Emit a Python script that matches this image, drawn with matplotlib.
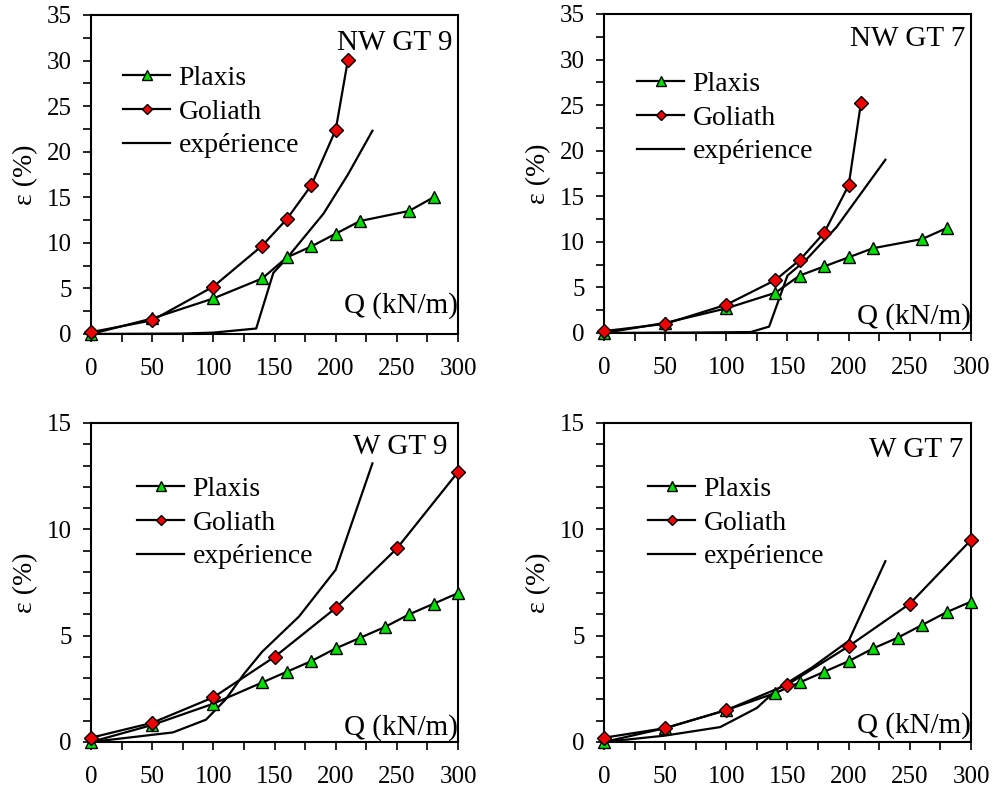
import matplotlib
matplotlib.use("Agg")
import matplotlib.pyplot as plt
from matplotlib.ticker import MultipleLocator

# --- data (Q in kN/m, strain in %) ---
# NW GT 9
nw9_plaxis_q = [0, 50, 100, 140, 160, 180, 200, 220, 260, 280]
nw9_plaxis_e = [0, 1.7, 3.9, 6.1, 8.4, 9.6, 11.0, 12.4, 13.5, 15.0]
nw9_goliath_q = [0, 50, 100, 140, 160, 180, 200, 210]
nw9_goliath_e = [0.2, 1.5, 5.2, 9.7, 12.6, 16.3, 22.4, 30.1]
nw9_exp_q = [0, 75, 100, 135, 149, 160, 190, 210, 230]
nw9_exp_e = [0, 0.05, 0.15, 0.6, 6.7, 8.3, 13.2, 17.5, 22.3]

# NW GT 7
nw7_plaxis_q = [0, 50, 100, 140, 160, 180, 200, 220, 260, 280]
nw7_plaxis_e = [0, 1.1, 2.7, 4.4, 6.3, 7.3, 8.3, 9.3, 10.3, 11.5]
nw7_goliath_q = [0, 50, 100, 140, 160, 180, 200, 210]
nw7_goliath_e = [0.2, 1.0, 3.1, 5.8, 8.0, 11.0, 16.2, 25.2]
nw7_exp_q = [0, 80, 120, 135, 150, 165, 190, 230]
nw7_exp_e = [0, 0.05, 0.1, 0.7, 6.3, 8.0, 11.6, 19.0]

# W GT 9
w9_plaxis_q = [0, 50, 100, 140, 160, 180, 200, 220, 240, 260, 280, 300]
w9_plaxis_e = [0, 0.8, 1.8, 2.8, 3.3, 3.8, 4.4, 4.9, 5.4, 6.0, 6.5, 7.0]
w9_goliath_q = [0, 50, 100, 150, 200, 250, 300]
w9_goliath_e = [0.2, 0.9, 2.1, 4.0, 6.3, 9.1, 12.7]
w9_exp_q = [0, 67, 94, 110, 125, 140, 170, 200, 230]
w9_exp_e = [0, 0.45, 1.05, 2.0, 3.2, 4.25, 5.9, 8.1, 13.1]

# W GT 7
w7_plaxis_q = [0, 50, 100, 140, 160, 180, 200, 220, 240, 260, 280, 300]
w7_plaxis_e = [0, 0.65, 1.5, 2.3, 2.8, 3.3, 3.8, 4.4, 4.9, 5.5, 6.1, 6.6]
w7_goliath_q = [0, 50, 100, 150, 200, 250, 300]
w7_goliath_e = [0.2, 0.65, 1.5, 2.7, 4.5, 6.5, 9.5]
w7_exp_q = [0, 50, 95, 125, 142, 170, 200, 230]
w7_exp_e = [0, 0.3, 0.7, 1.6, 2.5, 3.5, 4.75, 8.5]

titles = ["NW GT 9", "NW GT 7", "W GT 9", "W GT 7"]

plt.rcParams["font.family"] = ["Liberation Serif", "DejaVu Serif"]


def draw_panel(ax, pq, pe, gq, ge, xq, xe, title, ymax, yminor, leg_anchor, q_y, title_pos):
    ax.plot(xq, xe, color="black", lw=1.6, label="expérience", zorder=2)
    ax.plot(pq, pe, color="black", lw=1.6, marker="^", ms=9, mfc="#00dd00",
            mec="black", mew=1.0, label="Plaxis", clip_on=False, zorder=3)
    ax.plot(gq, ge, color="black", lw=1.6, marker="D", ms=7, mfc="#ee0000",
            mec="black", mew=1.0, label="Goliath", clip_on=False, zorder=4)

    ax.set_xlim(0, 300)
    ax.set_ylim(0, ymax)
    ax.xaxis.set_major_locator(MultipleLocator(50))
    ax.xaxis.set_minor_locator(MultipleLocator(25))
    ax.yaxis.set_major_locator(MultipleLocator(5))
    ax.yaxis.set_minor_locator(MultipleLocator(yminor))
    ax.tick_params(which="both", direction="out", length=6, width=1.2,
                   top=False, right=False, labelsize=18)
    ax.tick_params(axis="x", pad=11)
    ax.tick_params(axis="y", pad=8)
    for s in ax.spines.values():
        s.set_linewidth(1.5)

    ax.set_ylabel("ε (%)", fontsize=20, labelpad=6)

    handles, labels = ax.get_legend_handles_labels()
    order = [1, 2, 0]
    ax.legend([handles[i] for i in order], [labels[i] for i in order],
              loc="center left", bbox_to_anchor=leg_anchor, frameon=False,
              fontsize=20, handlelength=1.7, handletextpad=0.3,
              labelspacing=0.3, borderpad=0, borderaxespad=0, markerscale=0.8)

    ax.text(title_pos[0], title_pos[1], title, transform=ax.transAxes,
            ha="right", va="center", fontsize=21)
    ax.text(1.0, q_y, "Q (kN/m)", transform=ax.transAxes,
            ha="right", va="center", fontsize=21)


def main():
    fig = plt.figure(figsize=(9.96, 7.89), dpi=100)
    w, h = 0.3685, 0.4043
    ax1 = fig.add_axes([0.0914, 0.5767, w, h])
    ax2 = fig.add_axes([0.6064, 0.5780, w, h])
    ax3 = fig.add_axes([0.0914, 0.0596, w, h])
    ax4 = fig.add_axes([0.6064, 0.0596, w, h])

    draw_panel(ax1, nw9_plaxis_q, nw9_plaxis_e, nw9_goliath_q, nw9_goliath_e,
               nw9_exp_q, nw9_exp_e, titles[0], 35, 2.5, (0.087, 0.696), 0.09, (0.986, 0.912))
    draw_panel(ax2, nw7_plaxis_q, nw7_plaxis_e, nw7_goliath_q, nw7_goliath_e,
               nw7_exp_q, nw7_exp_e, titles[1], 35, 2.5, (0.09, 0.674), 0.05, (0.984, 0.92))
    draw_panel(ax3, w9_plaxis_q, w9_plaxis_e, w9_goliath_q, w9_goliath_e,
               w9_exp_q, w9_exp_e, titles[2], 15, 1, (0.125, 0.687), 0.044, (0.97, 0.925))
    draw_panel(ax4, w7_plaxis_q, w7_plaxis_e, w7_goliath_q, w7_goliath_e,
               w7_exp_q, w7_exp_e, titles[3], 15, 1, (0.12, 0.687), 0.053, (0.978, 0.915))

    fig.savefig("out.png", dpi=100)


if __name__ == "__main__":
    main()
